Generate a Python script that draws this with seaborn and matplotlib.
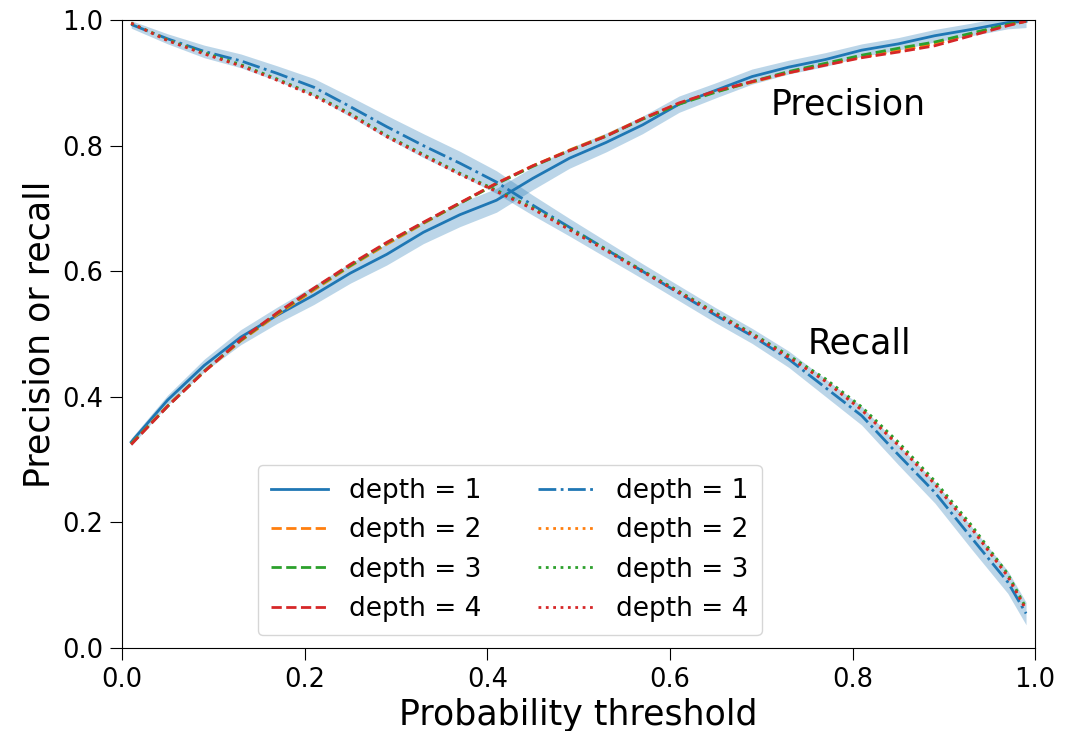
import matplotlib
matplotlib.use("Agg")
import matplotlib.pyplot as plt
import seaborn as sns
import numpy as np

# umbrales de probabilidad
thresholds = [0.01, 0.05, 0.09, 0.13, 0.17, 0.21, 0.25, 0.29, 0.33, 0.37,
              0.41, 0.45, 0.49, 0.53, 0.57, 0.61, 0.65, 0.69, 0.73, 0.77,
              0.81, 0.85, 0.89, 0.93, 0.97, 0.99]

# precision por profundidad
precision_d1 = [0.328, 0.395, 0.450, 0.495, 0.530, 0.562, 0.597, 0.627, 0.662, 0.690,
                0.713, 0.748, 0.780, 0.805, 0.833, 0.866, 0.888, 0.910, 0.925, 0.937,
                0.952, 0.962, 0.975, 0.985, 0.996, 0.998]
precision_d2 = [0.325, 0.386, 0.440, 0.489, 0.531, 0.570, 0.608, 0.643, 0.676, 0.708,
                0.740, 0.768, 0.793, 0.816, 0.843, 0.867, 0.886, 0.901, 0.916, 0.929,
                0.941, 0.951, 0.962, 0.977, 0.992, 0.998]
precision_d3 = [0.325, 0.385, 0.441, 0.490, 0.533, 0.572, 0.609, 0.645, 0.677, 0.708,
                0.739, 0.767, 0.792, 0.815, 0.842, 0.866, 0.885, 0.902, 0.918, 0.931,
                0.944, 0.955, 0.965, 0.979, 0.993, 0.998]
precision_d4 = [0.324, 0.385, 0.440, 0.491, 0.534, 0.573, 0.611, 0.646, 0.678, 0.709,
                0.740, 0.768, 0.792, 0.815, 0.843, 0.868, 0.887, 0.902, 0.916, 0.928,
                0.940, 0.949, 0.959, 0.975, 0.991, 0.998]
precision_d1_err = [0.006, 0.008, 0.010, 0.012, 0.013, 0.015, 0.016, 0.017, 0.018, 0.019,
                    0.019, 0.018, 0.016, 0.015, 0.014, 0.013, 0.012, 0.012, 0.011, 0.011,
                    0.010, 0.010, 0.010, 0.010, 0.010, 0.010]

# recall por profundidad
recall_d1 = [0.993, 0.970, 0.950, 0.935, 0.915, 0.893, 0.862, 0.830, 0.800, 0.772,
             0.742, 0.705, 0.670, 0.635, 0.600, 0.565, 0.530, 0.497, 0.460, 0.415,
             0.370, 0.308, 0.248, 0.176, 0.105, 0.055]
recall_d2 = [0.995, 0.968, 0.947, 0.928, 0.905, 0.880, 0.850, 0.815, 0.785, 0.755,
             0.728, 0.700, 0.667, 0.634, 0.600, 0.567, 0.533, 0.500, 0.464, 0.426,
             0.380, 0.324, 0.262, 0.192, 0.115, 0.062]
recall_d3 = [0.995, 0.968, 0.948, 0.929, 0.906, 0.881, 0.851, 0.816, 0.786, 0.756,
             0.729, 0.701, 0.668, 0.635, 0.601, 0.568, 0.534, 0.501, 0.466, 0.429,
             0.384, 0.328, 0.266, 0.196, 0.118, 0.064]
recall_d4 = [0.995, 0.967, 0.946, 0.927, 0.904, 0.879, 0.849, 0.814, 0.784, 0.754,
             0.727, 0.699, 0.666, 0.633, 0.599, 0.566, 0.532, 0.499, 0.463, 0.425,
             0.379, 0.323, 0.261, 0.191, 0.114, 0.061]
recall_d1_err = [0.006, 0.008, 0.010, 0.011, 0.012, 0.014, 0.016, 0.018, 0.019, 0.019,
                 0.018, 0.016, 0.014, 0.013, 0.012, 0.012, 0.012, 0.012, 0.013, 0.014,
                 0.015, 0.016, 0.017, 0.018, 0.018, 0.018]

depths = [1, 2, 3, 4]
colores = ["#1f77b4", "#ff7f0e", "#2ca02c", "#d62728"]
precisiones = [precision_d1, precision_d2, precision_d3, precision_d4]
recalls = [recall_d1, recall_d2, recall_d3, recall_d4]

fig, ax = plt.subplots(figsize=(10.65, 7.31), dpi=100)
fig.subplots_adjust(left=0.1146, right=0.972, top=0.9726, bottom=0.1135)

# bandas de la profundidad 1
x = np.array(thresholds)
p1 = np.array(precision_d1)
r1 = np.array(recall_d1)
ax.fill_between(x, p1 - np.array(precision_d1_err), p1 + np.array(precision_d1_err),
                color=colores[0], alpha=0.3, linewidth=0)
ax.fill_between(x, r1 - np.array(recall_d1_err), r1 + np.array(recall_d1_err),
                color=colores[0], alpha=0.3, linewidth=0)

# curvas de precision
for d, vals, c in zip(depths, precisiones, colores):
    sns.lineplot(x=thresholds, y=vals, color=c, linewidth=2,
                 linestyle="-" if d == 1 else "--", label=f"depth = {d}", ax=ax)

# curvas de recall
for d, vals, c in zip(depths, recalls, colores):
    sns.lineplot(x=thresholds, y=vals, color=c, linewidth=2,
                 linestyle="-." if d == 1 else ":", label=f"depth = {d}", ax=ax)

ax.text(0.71, 0.849, "Precision", fontsize=25)
ax.text(0.751, 0.469, "Recall", fontsize=25)

ax.set_xlim(0, 1)
ax.set_ylim(0, 1)
ax.set_xlabel("Probability threshold", fontsize=25)
ax.set_ylabel("Precision or recall", fontsize=25)
ax.tick_params(labelsize=18.5, length=8.3, pad=5)

ax.legend(ncol=2, loc="lower left", bbox_to_anchor=(0.149, 0.0207), fontsize=19,
          borderaxespad=0, handlelength=2.15, handletextpad=0.8,
          columnspacing=2.15, borderpad=0.5)

plt.savefig("out.png", dpi=100)
